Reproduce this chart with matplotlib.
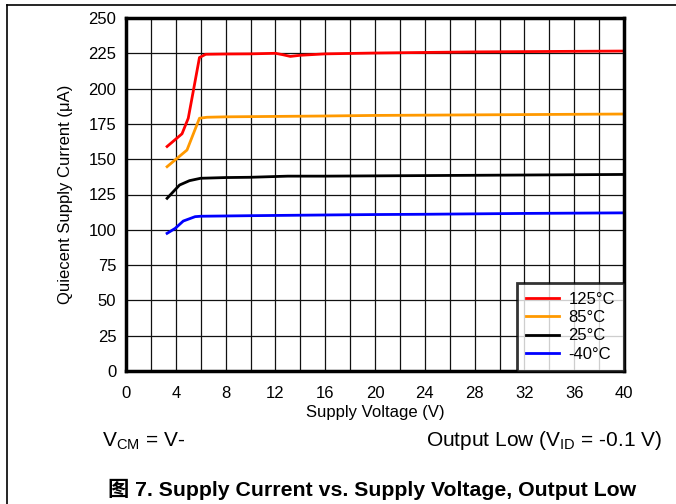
import matplotlib
matplotlib.use("Agg")
import matplotlib.pyplot as plt
from matplotlib.lines import Line2D

plt.rcParams['font.family'] = ['Liberation Sans', 'Noto Sans CJK SC', 'DejaVu Sans']

# Daten
v_125 = [3.3, 4.5, 5.0, 5.4, 5.9, 6.4, 8, 10, 12, 12.6, 13.2, 14, 16, 20, 24, 28, 32, 36, 40]
i_125 = [159, 168, 179, 198, 222, 224.3, 224.5, 224.6, 225, 224, 222.8, 223.6, 224.6, 225.2, 225.6, 226, 226.2, 226.4, 226.6]

v_85 = [3.3, 4.9, 5.9, 6.5, 8, 12, 16, 20, 24, 28, 32, 36, 40]
i_85 = [144.7, 156.5, 179, 179.7, 180, 180.3, 180.6, 181, 181.2, 181.4, 181.6, 181.8, 182]

v_25 = [3.3, 4.3, 5.1, 6.0, 8, 10, 13, 16, 20, 24, 28, 32, 36, 40]
i_25 = [122.3, 131.7, 134.8, 136.5, 137, 137.2, 138, 138, 138.2, 138.4, 138.6, 138.8, 139, 139.2]

v_m40 = [3.3, 3.95, 4.6, 5.55, 6.0, 8, 10, 16, 20, 24, 28, 32, 36, 40]
i_m40 = [97.5, 101, 106.2, 109.3, 109.6, 109.8, 110, 110.5, 110.8, 111, 111.3, 111.6, 111.8, 112]

serien = [
    (v_125, i_125, '125°C', '#ff0000'),
    (v_85, i_85, '85°C', '#ff9900'),
    (v_25, i_25, '25°C', '#000000'),
    (v_m40, i_m40, '-40°C', '#0000ff'),
]

x_ticks = list(range(0, 41, 4))
y_ticks = list(range(0, 251, 25))

fig = plt.figure(figsize=(6.76, 5.04), dpi=100)
ax = fig.add_axes([126 / 676, 1 - 371 / 504, 498 / 676, 353 / 504])

for v, i, name, farbe in serien:
    ax.plot(v, i, color=farbe, linewidth=2, label=name, zorder=3)

ax.set_xlim(0, 40)
ax.set_ylim(0, 250)
ax.set_xticks(x_ticks)
ax.set_xticks(list(range(0, 41, 2)), minor=True)
ax.set_yticks(y_ticks)
ax.grid(True, which='both', color='#111111', linewidth=0.9)
ax.tick_params(which='both', length=0, labelsize=12)
ax.tick_params(axis='x', pad=11)
ax.tick_params(axis='y', pad=7)
for s in ax.spines.values():
    s.set_linewidth(2.5)
    s.set_zorder(5)

ax.set_xlabel('Supply Voltage (V)', fontsize=12, labelpad=3)
ax.set_ylabel('Quiecent Supply Current (μA)', fontsize=12, labelpad=11)

leg = ax.legend(loc='lower right', fontsize=12, frameon=True, fancybox=False,
                borderaxespad=0, handlelength=2.0, handletextpad=0.55,
                labelspacing=0.2, borderpad=0.55)
leg.get_frame().set_edgecolor('black')
leg.get_frame().set_linewidth(2)
leg.set_zorder(6)

fig.text(102 / 676, 1 - 441 / 504, r'V$_{\mathregular{CM}}$ = V-', fontsize=15, va='center', ha='left')
fig.text(662 / 676, 1 - 441 / 504, r'Output Low (V$_{\mathregular{ID}}$ = -0.1 V)', fontsize=15,
         va='center', ha='right')
fig.text(372 / 676, 1 - 489 / 504, '图 7. Supply Current vs. Supply Voltage, Output Low',
         fontsize=15.3, fontweight='bold', va='center', ha='center')

# Rahmen oben und links
fig.add_artist(Line2D([7 / 676, 1], [1 - 5 / 504, 1 - 5 / 504], color='black', linewidth=1.2))
fig.add_artist(Line2D([7 / 676, 7 / 676], [0, 1 - 5 / 504], color='black', linewidth=1.2))

fig.savefig('out.png', dpi=100)
